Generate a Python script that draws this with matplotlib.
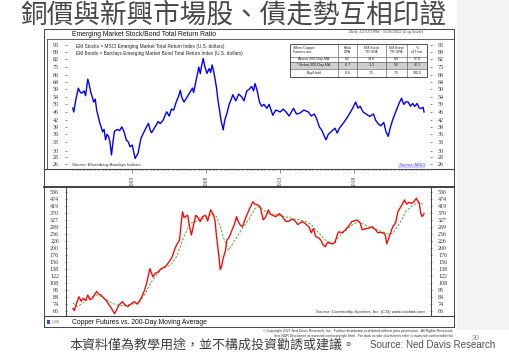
import numpy as np
import matplotlib
matplotlib.use('Agg')
import matplotlib.pyplot as plt
from matplotlib.patches import Rectangle
from matplotlib.lines import Line2D
from matplotlib.ticker import FixedLocator, FixedFormatter, NullFormatter

plt.rcParams['font.family'] = ['Liberation Sans', 'DejaVu Sans']

# ---- 數據 ----
# 新興市場 股/債 總報酬比 (上圖, 藍線)
ratio_years = [1998.99, 1999.05, 1999.2, 1999.36, 1999.5, 1999.6, 1999.75, 1999.85, 2000.0, 2000.1,
               2000.2, 2000.3, 2000.4, 2000.5, 2000.6, 2000.7, 2000.8, 2000.9, 2001.0, 2001.1,
               2001.2, 2001.3, 2001.4, 2001.5, 2001.6, 2001.7, 2001.8, 2002.0, 2002.15, 2002.3,
               2002.45, 2002.6, 2002.75, 2002.85, 2003.0, 2003.2, 2003.3, 2003.4, 2003.5, 2003.6,
               2003.8, 2004.0, 2004.1, 2004.2, 2004.3, 2004.5, 2004.75, 2004.9, 2005.1, 2005.2,
               2005.33, 2005.5, 2005.65, 2005.8, 2006.0, 2006.15, 2006.25, 2006.35, 2006.5, 2006.7,
               2006.9, 2007.07, 2007.15, 2007.3, 2007.5, 2007.6, 2007.7, 2007.8, 2007.9, 2008.05,
               2008.2, 2008.3, 2008.4, 2008.5, 2008.6, 2008.7, 2008.8, 2008.9, 2009.0, 2009.15,
               2009.25, 2009.4, 2009.55, 2009.7, 2009.8, 2010.0, 2010.2, 2010.4, 2010.55, 2010.75,
               2010.9, 2011.07, 2011.2, 2011.3, 2011.45, 2011.6, 2011.75, 2011.9, 2012.1, 2012.25,
               2012.5, 2012.7, 2013.0, 2013.2, 2013.4, 2013.6, 2013.9, 2014.1, 2014.3, 2014.6,
               2014.9, 2015.1, 2015.3, 2015.45, 2015.65, 2015.8, 2016.0, 2016.1, 2016.25, 2016.45,
               2016.7, 2016.85, 2017.0, 2017.3, 2017.5, 2017.7, 2017.9, 2018.1, 2018.25, 2018.4,
               2018.6, 2018.8, 2019.05, 2019.3, 2019.45, 2019.6, 2019.8, 2020.0, 2020.15, 2020.3,
               2020.45, 2020.6, 2020.8, 2021.0, 2021.2, 2021.35, 2021.5, 2021.65, 2021.8, 2021.95,
               2022.1, 2022.25, 2022.4, 2022.55, 2022.65, 2022.72]
ratio_vals = [48, 46, 53, 59.7, 57, 56.6, 58, 55, 66, 62,
              57, 54.3, 51.3, 53, 47, 43.8, 41, 39.1, 37, 38,
              33.9, 36, 35.2, 33, 28.7, 33, 37.2, 38, 37.5, 39.1,
              37, 33.9, 33, 31.4, 32, 27.6, 28.5, 29.2, 32, 34.6,
              37, 39.5, 40.6, 38, 36.6, 38.5, 41.4, 40.5, 42.2, 44,
              46.1, 44, 47.5, 47, 52, 55, 58.4, 54, 51.3, 54,
              57, 59.8, 57, 64, 75.3, 70, 77, 82.8, 76, 70.3,
              74, 71, 77.1, 72, 66, 59.8, 52, 47.1, 42, 37.8,
              42, 45.3, 50, 53, 55.6, 52, 56, 54.3, 52, 58,
              59, 60.9, 58, 62.9, 58, 51.3, 49, 50, 47.9, 50,
              44.4, 47, 46, 47.5, 46, 44, 47.9, 45, 45.3, 47,
              46, 44, 45, 42.9, 39, 37.8, 35, 33.9, 36, 37.1,
              38.5, 36.5, 38.5, 41, 43, 45.3, 48, 51.3, 48, 49,
              46, 45, 43.8, 45, 42, 40.6, 39.5, 41, 37, 35.2,
              39, 42.2, 46, 50, 53.5, 50, 51.5, 51.3, 49, 50.5,
              48.9, 50.5, 48, 47.9, 48.5, 46]

# 銅期貨 (下圖, 紅線)
copper_years = [1998.99, 1999.1, 1999.2, 1999.4, 1999.55, 1999.7, 1999.85, 2000.0, 2000.15, 2000.3,
                2000.45, 2000.6, 2000.75, 2000.9, 2001.05, 2001.25, 2001.4, 2001.6, 2001.8, 2001.95,
                2002.1, 2002.35, 2002.5, 2002.7, 2002.9, 2003.15, 2003.35, 2003.6, 2003.85, 2004.0,
                2004.2, 2004.4, 2004.55, 2004.75, 2004.95, 2005.2, 2005.35, 2005.5, 2005.7, 2005.85,
                2006.0, 2006.2, 2006.3, 2006.4, 2006.5, 2006.6, 2006.75, 2006.85, 2007.0, 2007.15,
                2007.3, 2007.45, 2007.6, 2007.75, 2007.95, 2008.1, 2008.3, 2008.5, 2008.6, 2008.7,
                2008.85, 2008.95, 2009.05, 2009.15, 2009.3, 2009.4, 2009.55, 2009.75, 2009.9, 2010.05,
                2010.15, 2010.3, 2010.45, 2010.55, 2010.7, 2010.9, 2011.15, 2011.3, 2011.5, 2011.65,
                2011.85, 2012.0, 2012.2, 2012.35, 2012.5, 2012.7, 2012.95, 2013.1, 2013.4, 2013.6,
                2013.8, 2013.95, 2014.2, 2014.35, 2014.5, 2014.7, 2014.95, 2015.1, 2015.25, 2015.4,
                2015.55, 2015.75, 2015.9, 2016.05, 2016.2, 2016.5, 2016.7, 2016.85, 2016.95, 2017.2,
                2017.4, 2017.6, 2017.85, 2018.0, 2018.2, 2018.4, 2018.55, 2018.8, 2019.0, 2019.2,
                2019.45, 2019.6, 2019.8, 2020.0, 2020.1, 2020.2, 2020.35, 2020.6, 2020.8, 2020.95,
                2021.2, 2021.4, 2021.55, 2021.7, 2021.85, 2022.0, 2022.2, 2022.3, 2022.4, 2022.5,
                2022.6, 2022.72]
copper_vals = [68.8, 66, 72.9, 84.4, 78, 81.9, 79, 86.9, 80, 81.9,
               87, 92.6, 88, 86.9, 83, 79.1, 74, 68.8, 62.6, 67,
               72.9, 77.4, 73, 70.9, 74, 77.4, 74, 82, 95.4, 110,
               138.6, 119.7, 127, 130.6, 138, 142.6, 148, 156.3, 170, 191.6,
               210, 228.8, 300, 376.6, 340, 345.6, 354.5, 300, 250, 300,
               354, 340, 316.7, 345, 354, 320, 389, 354, 320, 242.5,
               175, 136, 145, 166.3, 190, 228.8, 240, 273.8, 300, 345.6,
               320, 297.8, 290, 310, 345.6, 390, 449, 430, 423, 410,
               326, 340, 389, 360, 354, 345, 364, 350, 316.7, 320,
               330, 326, 300, 310, 316.7, 305, 288, 260, 280, 242.5,
               240, 228.8, 210, 203.3, 220, 214, 218, 250, 264.6, 260,
               273.8, 290, 316.7, 320, 326, 310, 273.8, 280, 282, 290,
               273.8, 260, 262, 257.5, 250, 214, 240, 288, 310, 376,
               420, 463, 430, 445, 436, 445, 477, 455, 436, 364,
               345.6, 364]

# 200日移動平均 (綠虛線)
ma_years = [1998.99, 1999.3, 1999.7, 2000.1, 2000.6, 2001.0, 2001.5, 2001.9, 2002.4, 2002.9,
            2003.3, 2003.6, 2004.0, 2004.3, 2004.95, 2005.6, 2006.0, 2006.45, 2006.9, 2007.6,
            2008.0, 2008.4, 2008.7, 2008.95, 2009.15, 2009.5, 2009.95, 2010.5, 2010.9, 2011.3,
            2011.6, 2011.9, 2012.2, 2012.95, 2013.85, 2014.75, 2015.1, 2015.4, 2016.05, 2016.5,
            2017.2, 2017.85, 2018.3, 2019.0, 2019.9, 2020.3, 2020.6, 2021.15, 2021.5, 2021.85,
            2022.4, 2022.72]
ma_vals = [75.7, 71, 76, 82, 87, 84, 77, 73, 72, 74,
           75, 79, 95, 110, 136, 148, 171, 236, 306, 326,
           340, 364, 345, 290, 242, 191, 229, 288, 330, 400,
           411, 385, 364, 354, 334, 317, 300, 274, 229, 214,
           257, 298, 317, 288, 265, 255, 257, 317, 380, 411,
           449, 423]

ratio_ticks = [26, 28, 30, 33, 36, 39, 42, 46, 50, 54, 59, 64, 69, 75, 82, 89, 96]
copper_ticks = [66, 74, 84, 95, 108, 122, 138, 156, 176, 200, 226, 256, 289, 327, 370, 419, 474, 536]
year_labels = [2003, 2008, 2013, 2018]

table_head = ['When Copper\nFutures are:', 'Ratio\nGPA', 'EM Stock\nTR GPA', 'EM Bond\nTR GPA', '%\nof Time']
table_rows = [['Above 200-Day MA', '6.2', '14.6', '8.9', '57.9'],
              ['* Below 200-Day MA', '-6.7', '-1.5', '5.6', '42.1'],
              ['Buy/Hold', '-0.6', '7.5', '7.5', '100.0']]

# ---- 版面 (像素) ----
W, H = 509, 354
fig = plt.figure(figsize=(W / 100, H / 100), dpi=100)
fig.patch.set_facecolor('white')


def rect(x0, y0, x1, y1):
    return [x0 / W, 1 - y1 / H, (x1 - x0) / W, (y1 - y0) / H]


def px(x, y):
    return x / W, 1 - y / H


def hline(y, x0, x1, lw=0.7, c='#444444'):
    fig.add_artist(Line2D([x0 / W, x1 / W], [1 - y / H, 1 - y / H], lw=lw, color=c, transform=fig.transFigure))


def vline(x, y0, y1, lw=0.7, c='#444444'):
    fig.add_artist(Line2D([x / W, x / W], [1 - y0 / H, 1 - y1 / H], lw=lw, color=c, transform=fig.transFigure))


# 右側淡灰背景
fig.add_artist(Rectangle(px(457, 330), 52 / W, 330 / H, transform=fig.transFigure,
                         facecolor='#f3f3f3', edgecolor='none', zorder=-5))

serif = ['Liberation Serif', 'DejaVu Serif']
x_lo, x_hi = 1998.527, 2023.19

# 上圖
ax1 = fig.add_axes(rect(66, 39, 431, 169))
ax1.plot(ratio_years, ratio_vals, color='#0000ff', lw=1.0)
ax1.set_yscale('log')
ax1.set_ylim(24.6, 102.5)
ax1.set_xlim(x_lo, x_hi)
ax1.yaxis.set_major_locator(FixedLocator(ratio_ticks))
ax1.yaxis.set_major_formatter(FixedFormatter([str(t) for t in ratio_ticks]))
ax1.yaxis.set_minor_formatter(NullFormatter())
ax1.yaxis.set_minor_locator(FixedLocator([]))
ax1.tick_params(axis='y', which='both', left=True, right=True, labelleft=True, labelright=True,
                length=2, width=0.4, pad=4, labelsize=4.3, colors='#333333', direction='inout')
ax1.xaxis.set_major_locator(FixedLocator(year_labels))
ax1.xaxis.set_major_formatter(FixedFormatter([str(y) for y in year_labels]))
ax1.xaxis.set_minor_locator(FixedLocator(np.arange(1999, 2023.01, 0.25)))
ax1.tick_params(axis='x', which='major', length=3, width=0.4, direction='out', pad=2,
                labelsize=4, labelrotation=90, colors='#333333')
ax1.tick_params(axis='x', which='minor', length=1.5, width=0.3, direction='out', colors='#333333')
for lab in ax1.get_xticklabels() + ax1.get_yticklabels():
    lab.set_family(serif)
for s in ['top', 'left', 'right', 'bottom']:
    ax1.spines[s].set_visible(False)
ax1.patch.set_alpha(0)

# 下圖
ax2 = fig.add_axes(rect(66, 187, 431, 316))
ax2.plot(ma_years, ma_vals, color='#44b044', lw=0.7, ls=(0, (2.5, 1.5)), zorder=2)
ax2.plot(copper_years, copper_vals, color='#ff0000', lw=0.95, zorder=3)
ax2.set_yscale('log')
ax2.set_ylim(60.1, 582)
ax2.set_xlim(x_lo, x_hi)
ax2.yaxis.set_major_locator(FixedLocator(copper_ticks))
ax2.yaxis.set_major_formatter(FixedFormatter([str(t) for t in copper_ticks]))
ax2.yaxis.set_minor_formatter(NullFormatter())
ax2.yaxis.set_minor_locator(FixedLocator([]))
ax2.tick_params(axis='y', which='both', left=True, right=True, labelleft=True, labelright=True,
                length=2, width=0.4, pad=4, labelsize=4.3, colors='#333333', direction='inout')
ax2.set_xticks([])
for lab in ax2.get_yticklabels():
    lab.set_family(serif)
ax2.spines['top'].set_visible(False)
ax2.spines['bottom'].set_visible(False)
for s in ['left', 'right']:
    ax2.spines[s].set_linewidth(0.7)
    ax2.spines[s].set_color('#444444')
ax2.patch.set_alpha(0)

# 外框與分隔線
hline(29, 44, 454)
hline(327, 44, 454)
vline(44, 29, 327)
vline(454, 29, 327)
hline(39, 47, 454, lw=0.6)
vline(47, 39, 169, lw=0.6)
hline(169, 44, 454, lw=0.8)
hline(187, 44, 454, lw=1.3, c='#333333')
hline(316, 44, 454, lw=0.8)

# 文字
fig.text(*px(20, 15), '銅價與新興市場股、債走勢互相印證', family=['Noto Sans CJK TC', 'DejaVu Sans'],
         fontsize=19.2, fontweight='light', color='#484848', va='center', ha='left')
fig.text(*px(72, 35), 'Emerging Market Stock/Bond Total Return Ratio', fontsize=4.9, color='#111111', va='center')
fig.text(*px(423, 31.5), 'Daily 12/31/1998 - 9/20/2022 (Log Scale)', fontsize=3.2, style='italic',
         family=serif, color='#333333', va='center', ha='right')
fig.text(*px(76, 46.5), 'EM Stocks = MSCI Emerging Market Total Return Index (U.S. dollars)',
         fontsize=3.4, color='#222222', va='center')
fig.text(*px(76, 53), 'EM Bonds = Barclays Emerging Market Bond Total Return Index (U.S. dollars)',
         fontsize=3.4, color='#222222', va='center')
fig.text(*px(72, 165.5), 'Source: Bloomberg Barclays Indices', fontsize=3.1, style='italic',
         color='#222222', va='center')
fig.text(*px(425, 165.5), 'Source: MSCI', fontsize=3.1, style='italic', color='#1a1aff',
         va='center', ha='right')
hline(167.3, 398, 425, lw=0.3, c='#1a1aff')
fig.text(*px(425, 311.5), 'Source: Commodity Systems, Inc. (CSI) www.csidata.com', fontsize=3.1,
         style='italic', color='#222222', va='center', ha='right')
fig.text(*px(72, 322), 'Copper Futures vs. 200-Day Moving Average', fontsize=4.9, color='#111111', va='center')
fig.add_artist(Rectangle(px(47, 324), 2.5 / W, 4 / H, transform=fig.transFigure,
                         facecolor='#3355cc', edgecolor='none'))
fig.text(*px(52, 322), '(1106)', fontsize=2.2, color='#666666', va='center')
fig.text(*px(453, 331), '\u00a9 Copyright 2022 Ned Davis Research, Inc.  Further distribution prohibited '
         'without prior permission.  All Rights Reserved.', fontsize=2.5, color='#333333', va='center', ha='right')
fig.text(*px(453, 335.5), 'See NDR Disclaimer at www.ndr.com/copyright.html.  For data vendor disclaimers '
         'refer to www.ndr.com/vendorinfo/', fontsize=2.5, color='#333333', va='center', ha='right')
fig.text(*px(69, 345), '本資料僅為教學用途，並不構成投資勸誘或建議。', family=['Noto Sans CJK TC', 'DejaVu Sans'],
         fontsize=9.4, color='#404040', va='center')
fig.text(*px(370, 345.5), 'Source: Ned Davis Research', fontsize=7, color='#505050', va='center')
fig.text(*px(472, 338), '30', fontsize=5, color='#888888', va='center')

# 表格
cols = [290, 338, 357, 386, 407, 427]
rows = [44, 56.5, 62, 68.5, 77]
fig.add_artist(Rectangle(px(cols[0], rows[3]), (cols[-1] - cols[0]) / W, (rows[3] - rows[2]) / H,
                         transform=fig.transFigure, facecolor='#cfcfcf', edgecolor='none'))
fig.add_artist(Rectangle(px(cols[0], rows[-1]), (cols[-1] - cols[0]) / W, (rows[-1] - rows[0]) / H,
                         transform=fig.transFigure, facecolor='none', edgecolor='#333333', lw=0.6))
for c in cols[1:-1]:
    vline(c, rows[0], rows[-1], lw=0.4)
for r in rows[1:-1]:
    hline(r, cols[0], cols[-1], lw=0.4)
for j, h in enumerate(table_head):
    if j == 0:
        fig.text(*px(cols[0] + 3, (rows[0] + rows[1]) / 2), h, fontsize=2.5, va='center', ha='left',
                 color='#222222', linespacing=1.1)
    else:
        fig.text(*px((cols[j] + cols[j + 1]) / 2, (rows[0] + rows[1]) / 2), h, fontsize=2.5, va='center',
                 ha='center', color='#222222', linespacing=1.1)
for i, row in enumerate(table_rows):
    yc = (rows[i + 1] + rows[i + 2]) / 2
    for j, v in enumerate(row):
        fig.text(*px((cols[j] + cols[j + 1]) / 2, yc), v, fontsize=2.6, va='center', ha='center',
                 color='#222222')

fig.savefig('out.png', dpi=100)
